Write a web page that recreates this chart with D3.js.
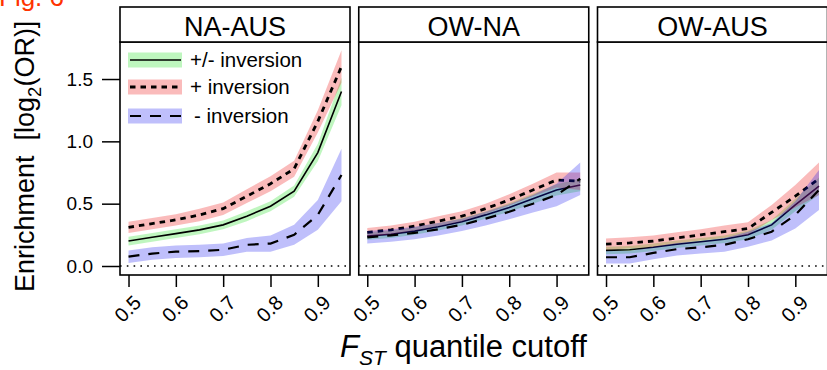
<!DOCTYPE html>
<html>
<head>
<meta charset="utf-8">
<script src="https://cdn.jsdelivr.net/npm/d3@7"></script>
<style>
  body { margin: 0; background: #fff; }
  svg { display: block; }
  text { font-family: "Liberation Sans", Arial, Helvetica, sans-serif; }
</style>
</head>
<body>
<script>
// F_ST quantile cutoffs at which enrichment was computed
const cutoffs = [0.50, 0.55, 0.60, 0.65, 0.70, 0.75, 0.80, 0.85, 0.90, 0.95];
const xTickValues = [0.5, 0.6, 0.7, 0.8, 0.9];
const yTickValues = [0.0, 0.5, 1.0, 1.5];
const panelNames = ["NA-AUS", "OW-NA", "OW-AUS"];
const seriesNames = ["+/- inversion", "+ inversion", "- inversion"];

// NA-AUS: log2 odds ratio and half-width of the confidence band
const naAusAll      = [0.20, 0.23, 0.26, 0.29, 0.33, 0.40, 0.48, 0.60, 0.91, 1.40];
const naAusAllHw    = [0.035, 0.035, 0.035, 0.035, 0.035, 0.04, 0.04, 0.045, 0.07, 0.11];
const naAusPlus     = [0.31, 0.34, 0.37, 0.41, 0.46, 0.56, 0.66, 0.78, 1.16, 1.60];
const naAusPlusHw   = [0.045, 0.045, 0.045, 0.05, 0.05, 0.055, 0.06, 0.065, 0.09, 0.13];
const naAusMinus    = [0.075, 0.10, 0.115, 0.12, 0.13, 0.17, 0.18, 0.25, 0.41, 0.73];
const naAusMinusHw  = [0.05, 0.05, 0.05, 0.05, 0.05, 0.055, 0.065, 0.08, 0.12, 0.21];

// OW-NA
const owNaAll       = [0.24, 0.255, 0.28, 0.315, 0.355, 0.41, 0.47, 0.54, 0.61, 0.65];
const owNaAllHw     = [0.03, 0.03, 0.03, 0.03, 0.03, 0.03, 0.035, 0.04, 0.045, 0.05];
const owNaPlus      = [0.27, 0.29, 0.32, 0.36, 0.40, 0.46, 0.53, 0.61, 0.69, 0.68];
const owNaPlusHw    = [0.035, 0.035, 0.035, 0.04, 0.04, 0.04, 0.045, 0.05, 0.06, 0.07];
const owNaMinus     = [0.23, 0.245, 0.265, 0.295, 0.33, 0.38, 0.435, 0.50, 0.57, 0.70];
const owNaMinusHw   = [0.05, 0.05, 0.05, 0.05, 0.05, 0.055, 0.06, 0.07, 0.09, 0.13];

// OW-AUS
const owAusAll      = [0.125, 0.13, 0.15, 0.175, 0.195, 0.215, 0.25, 0.33, 0.49, 0.64];
const owAusAllHw    = [0.03, 0.03, 0.03, 0.03, 0.03, 0.03, 0.035, 0.04, 0.05, 0.07];
const owAusPlus     = [0.175, 0.185, 0.20, 0.225, 0.25, 0.275, 0.30, 0.43, 0.56, 0.70];
const owAusPlusHw   = [0.045, 0.045, 0.045, 0.045, 0.045, 0.05, 0.05, 0.06, 0.09, 0.13];
const owAusMinus    = [0.07, 0.07, 0.105, 0.135, 0.15, 0.17, 0.215, 0.275, 0.41, 0.61];
const owAusMinusHw  = [0.05, 0.05, 0.05, 0.05, 0.05, 0.055, 0.06, 0.07, 0.11, 0.16];

const panelData = [
  [[naAusAll, naAusAllHw], [naAusPlus, naAusPlusHw], [naAusMinus, naAusMinusHw]],
  [[owNaAll, owNaAllHw], [owNaPlus, owNaPlusHw], [owNaMinus, owNaMinusHw]],
  [[owAusAll, owAusAllHw], [owAusPlus, owAusPlusHw], [owAusMinus, owAusMinusHw]]
];

// Styling for each series: band colour, line dash and width
const bandFill = ["rgb(0,220,0)", "rgb(240,30,30)", "rgb(20,20,240)"];
const bandOpacity = [0.25, 0.3, 0.27];
const lineDash = [null, "5.5,5", "11,9"];
const lineWidth = [1.6, 2.8, 2.2];

const W = 827, H = 370;
const svg = d3.select("body").append("svg").attr("width", W).attr("height", H);

const panelLeft0 = 120, panelW = 230, panelStep = 238.75;
const stripTop = 7, stripH = 35, plotTop = 42, plotBottom = 275;

const y = d3.scaleLinear().domain([-0.0722, 1.797]).range([plotBottom, plotTop]);

panelData.forEach((series, i) => {
  const left = panelLeft0 + i * panelStep;
  const x = d3.scaleLinear().domain([0.482, 0.968]).range([left, left + panelW]);
  const g = svg.append("g");

  const clipId = "clip" + i;
  svg.append("clipPath").attr("id", clipId)
    .append("rect").attr("x", left).attr("y", plotTop).attr("width", panelW).attr("height", plotBottom - plotTop);

  const inner = g.append("g").attr("clip-path", `url(#${clipId})`);

  // zero reference line
  inner.append("line")
    .attr("x1", left).attr("x2", left + panelW)
    .attr("y1", y(0)).attr("y2", y(0))
    .attr("stroke", "#000").attr("stroke-width", 1.6)
    .attr("stroke-dasharray", "1.6,5.2");

  series.forEach(([vals, hw], s) => {
    const pts = cutoffs.map((c, k) => ({ c, v: vals[k], h: hw[k] }));
    inner.append("path")
      .datum(pts)
      .attr("d", d3.area().x(d => x(d.c)).y0(d => y(d.v - d.h)).y1(d => y(d.v + d.h)))
      .attr("fill", bandFill[s]).attr("fill-opacity", bandOpacity[s]).attr("stroke", "none");
    inner.append("path")
      .datum(pts)
      .attr("d", d3.line().x(d => x(d.c)).y(d => y(d.v)))
      .attr("fill", "none").attr("stroke", "#000")
      .attr("stroke-width", lineWidth[s])
      .attr("stroke-dasharray", lineDash[s]);
  });

  // panel frame
  g.append("rect")
    .attr("x", left).attr("y", plotTop).attr("width", panelW).attr("height", plotBottom - plotTop)
    .attr("fill", "none").attr("stroke", "#000").attr("stroke-width", 1.6);

  // strip with panel title
  g.append("rect")
    .attr("x", left).attr("y", stripTop).attr("width", panelW).attr("height", stripH)
    .attr("fill", "#fff").attr("stroke", "#000").attr("stroke-width", 1.6);
  g.append("text")
    .attr("x", left + panelW / 2).attr("y", stripTop + 29)
    .attr("text-anchor", "middle").attr("font-size", 27).attr("fill", "#000")
    .text(panelNames[i]);

  // x axis ticks
  const xAxis = d3.axisBottom(x).tickValues(xTickValues).tickSize(12).tickFormat("");
  const ax = g.append("g").attr("transform", `translate(0,${plotBottom})`).call(xAxis);
  ax.select(".domain").remove();
  ax.selectAll(".tick line").attr("stroke", "#000").attr("stroke-width", 1.5);

  // rotated tick labels
  g.selectAll(".xlab")
    .data(xTickValues)
    .join("text")
    .attr("class", "xlab")
    .attr("transform", d => `translate(${x(d) + 9},${plotBottom + 24}) rotate(-45)`)
    .attr("text-anchor", "end")
    .attr("dy", "0.35em")
    .attr("font-size", 20).attr("fill", "#000")
    .text(d3.format(".1f"));

  // y axis on first panel only
  if (i === 0) {
    const yAxis = d3.axisLeft(y).tickValues(yTickValues).tickSize(18).tickPadding(9)
      .tickFormat(d3.format(".1f"));
    const ay = g.append("g").attr("transform", `translate(${left},0)`).call(yAxis);
    ay.select(".domain").remove();
    ay.selectAll(".tick line").attr("stroke", "#000").attr("stroke-width", 1.5);
    ay.selectAll(".tick text")
      .attr("font-size", 19).attr("fill", "#000")
      .attr("font-family", "'Liberation Sans', Arial, sans-serif");

    // legend
    const legY = [60, 87, 116];
    const lg = g.append("g");
    seriesNames.forEach((name, s) => {
      lg.append("rect")
        .attr("x", 128).attr("y", legY[s] - 7.5).attr("width", 54).attr("height", 15)
        .attr("fill", bandFill[s]).attr("fill-opacity", bandOpacity[s]);
      lg.append("line")
        .attr("x1", 130).attr("x2", 181).attr("y1", legY[s]).attr("y2", legY[s])
        .attr("stroke", "#000").attr("stroke-width", lineWidth[s])
        .attr("stroke-dasharray", lineDash[s]);
      lg.append("text")
        .attr("x", s === 2 ? 194 : 190).attr("y", legY[s]).attr("dy", "0.35em")
        .attr("font-size", 20.5).attr("fill", "#000")
        .text(name);
    });
  }
});

// y axis title
const yt = svg.append("text")
  .attr("transform", "translate(34,292) rotate(-90)")
  .attr("font-size", 27).attr("fill", "#000");
yt.append("tspan").text("Enrichment\u00a0\u00a0[log");
yt.append("tspan").attr("font-size", 18.5).attr("dy", 7).text("2");
yt.append("tspan").attr("dy", -7).text("(OR)]");

// x axis title
const xt = svg.append("text")
  .attr("x", 340).attr("y", 357)
  .attr("font-size", 31).attr("fill", "#000");
xt.append("tspan").attr("font-style", "italic").text("F");
xt.append("tspan").attr("font-style", "italic").attr("font-size", 21).attr("dy", 8).text("ST");
xt.append("tspan").attr("dy", -8).text(" quantile cutoff");

// figure label
svg.append("text")
  .attr("x", -1).attr("y", 6)
  .attr("font-size", 26).attr("fill", "#ff3300")
  .text("Fig. 6");
</script>
</body>
</html>
